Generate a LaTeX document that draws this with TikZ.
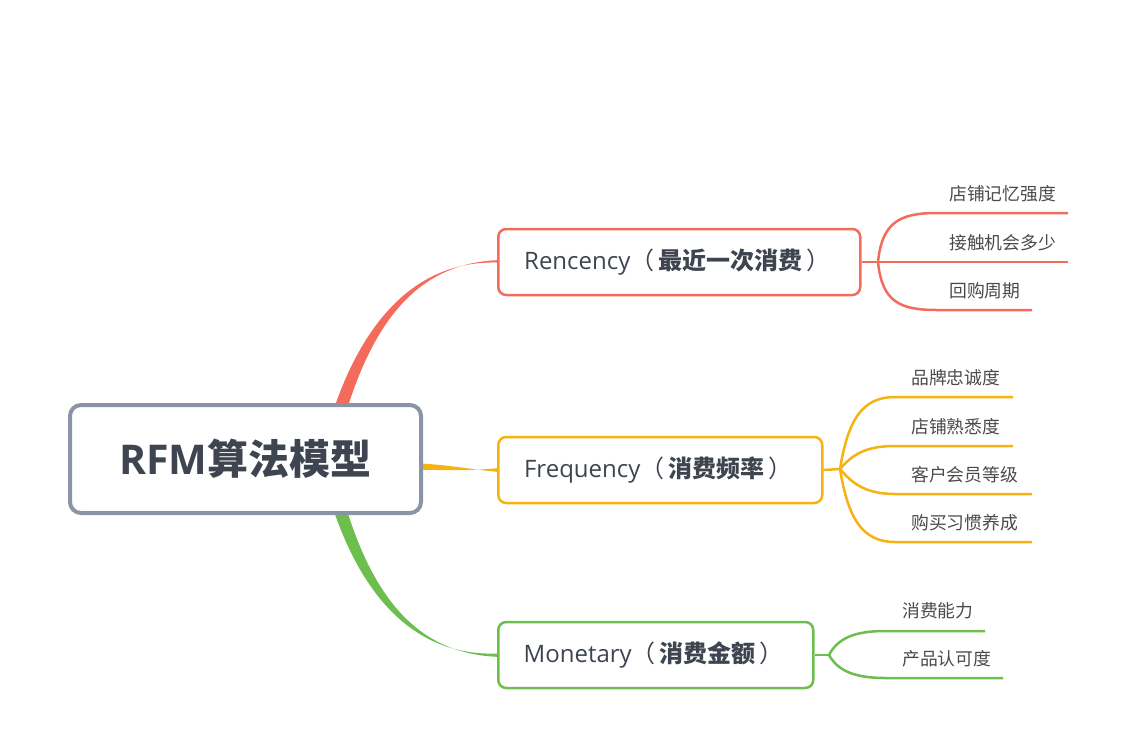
\documentclass[tikz,border=0pt]{standalone}
\usepackage{fontspec}
\setmainfont{Open Sans}
\newfontfamily\cjk{Noto Sans CJK SC}
\definecolor{rc}{HTML}{F36B5A}
\definecolor{oc}{HTML}{F5B311}
\definecolor{gc}{HTML}{6CBF4C}
\definecolor{rootc}{HTML}{8B94A5}
\definecolor{txt}{HTML}{3E4550}
\definecolor{leaftxt}{HTML}{4A4A4A}
\begin{document}
\begin{tikzpicture}[x=1pt,y=-1pt,
  rootbox/.style={draw=rootc,line width=4pt,rounded corners=11pt,fill=white,minimum width=351pt,minimum height=108pt,text=txt,inner sep=0pt},
  topicbox/.style={draw=#1,line width=2.5pt,rounded corners=8pt,fill=white,minimum height=66pt,text=txt,inner sep=0pt,anchor=west,font=\fontsize{24pt}{28pt}\selectfont},
  sub/.style={draw=#1,line width=2.5pt},
  leaf/.style={anchor=base west,inner sep=0pt,text=leaftxt,font=\cjk\fontsize{17.8pt}{20pt}\selectfont}]
\useasboundingbox (0,0) rectangle (1143,750);
% topic boxes
\node[topicbox=rc,minimum width=362pt] (R) at (497,262) {\hspace*{-4pt}Rencency{\cjk（\,\textbf{最近一次消费}\,）}};
\node[topicbox=oc,minimum width=324pt] (F) at (497,470) {\hspace*{-4pt}Frequency{\cjk（\,\textbf{消费频率}\,）}};
\node[topicbox=gc,minimum width=315pt] (M) at (497,655) {\hspace*{-4pt}Monetary{\cjk（\,\textbf{消费金额}\,）}};
% main branches (tapered)
\fill[rc] (323,445) .. controls (353,330) and (410,260.5) .. ([yshift=-0.5pt]R.west) -- ([yshift=1.8pt]R.west) .. controls (410,264) and (365,333) .. (337,445) -- cycle;
\fill[oc] (400,463) .. controls (440,463) and (460,468.2) .. ([yshift=-1.8pt]F.west) -- ([yshift=1.8pt]F.west) .. controls (460,471.8) and (440,469.5) .. (400,469.5) -- cycle;
\fill[gc] (323,475) .. controls (353,590) and (410,656.5) .. ([yshift=1.5pt]M.west) -- ([yshift=-1.8pt]M.west) .. controls (410,653) and (365,587) .. (337,475) -- cycle;
% root
\node[rootbox] (root) at (245.5,459) {\fontsize{41pt}{48pt}\selectfont\bfseries RFM{\cjk 算法模型}};
% Rencency leaves
\coordinate (rj) at (878,262);
\coordinate (r1) at (1068,213);
\coordinate (r2) at (1068,262);
\coordinate (r3) at (1032,310);
\draw[sub=rc] (R.east) -- (rj);
\draw[sub=rc] (rj) .. controls (882,222) and (900,213) .. (937,213) -- (r1);
\draw[sub=rc] (rj) -- (r2);
\draw[sub=rc] (rj) .. controls (882,302) and (900,310) .. (937,310) -- (r3);
\node[leaf] (rl1) at (949,200) {店铺记忆强度};
\node[leaf] (rl2) at (949,249) {接触机会多少};
\node[leaf] (rl3) at (949,297) {回购周期};
% Frequency leaves
\coordinate (fj) at (840,469);
\coordinate (f1) at (1013,397);
\coordinate (f2) at (1013,446);
\coordinate (f3) at (1032,494);
\coordinate (f4) at (1032,542);
\draw[sub=oc] (F.east) -- (fj);
\draw[sub=oc] (fj) .. controls (848,420) and (862,397) .. (895,397) -- (f1);
\draw[sub=oc] (fj) .. controls (852,455) and (865,446) .. (895,446) -- (f2);
\draw[sub=oc] (fj) .. controls (852,483) and (865,494) .. (895,494) -- (f3);
\draw[sub=oc] (fj) .. controls (848,518) and (862,542) .. (895,542) -- (f4);
\node[leaf] (fl1) at (911,384) {品牌忠诚度};
\node[leaf] (fl2) at (911,433) {店铺熟悉度};
\node[leaf] (fl3) at (911,481) {客户会员等级};
\node[leaf] (fl4) at (911,529) {购买习惯养成};
% Monetary leaves
\coordinate (mj) at (829,655);
\coordinate (m1) at (985,631);
\coordinate (m2) at (1003,678);
\draw[sub=gc] (M.east) -- (mj);
\draw[sub=gc] (mj) .. controls (838,638) and (855,631) .. (885,631) -- (m1);
\draw[sub=gc] (mj) .. controls (838,671) and (855,678) .. (885,678) -- (m2);
\node[leaf] (ml1) at (902,617) {消费能力};
\node[leaf] (ml2) at (902,665) {产品认可度};
\end{tikzpicture}
\end{document}
